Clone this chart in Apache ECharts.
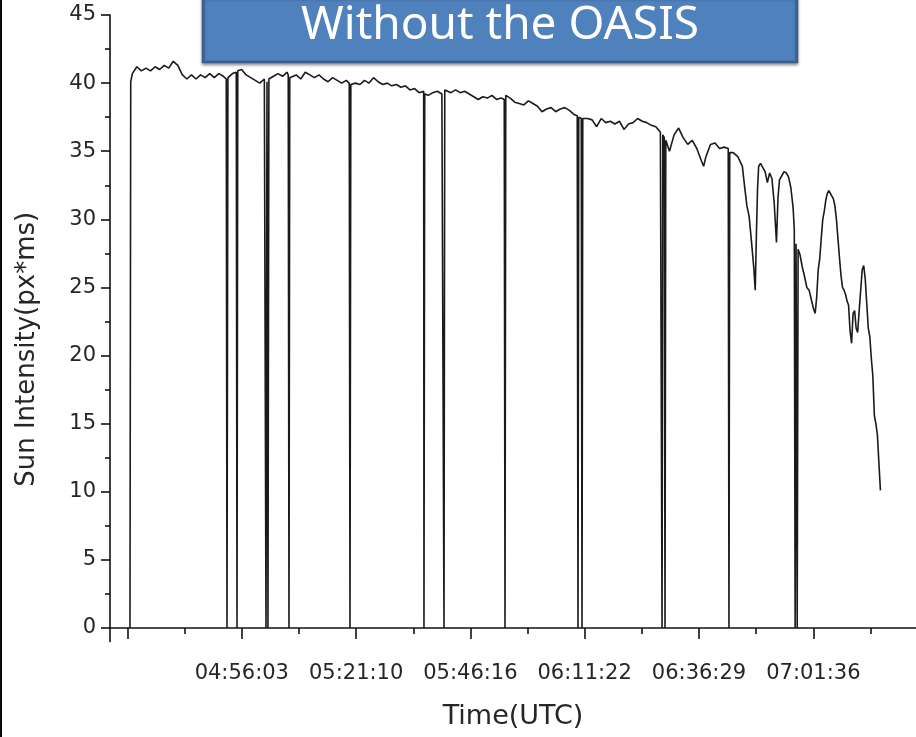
<!DOCTYPE html>
<html>
<head>
<meta charset="utf-8">
<title>Without the OASIS</title>
<script src="https://cdn.jsdelivr.net/npm/echarts@6/dist/echarts.min.js"></script>
<style>
  html, body { margin: 0; padding: 0; background: #ffffff; }
  #chart { width: 916px; height: 737px; }
</style>
</head>
<body>
<div id="chart"></div>
<script>
// Sun intensity samples (UTC time, px*ms); zero values are dropped frames.
const times = [
  '04:31:29','04:31:39','04:32:00','04:33:00','04:34:00','04:35:00','04:36:00','04:37:00','04:38:00','04:39:00',
  '04:40:00','04:41:00','04:42:00','04:43:00','04:44:00','04:45:00','04:46:00','04:47:00','04:48:00','04:49:00',
  '04:50:00','04:51:00','04:52:00','04:52:38','04:52:48','04:53:00','04:54:00','04:54:50','04:55:00','04:55:10',
  '04:56:00','04:57:00','04:58:00','04:59:00','05:00:00','05:01:00','05:01:22','05:01:35','05:01:48','05:02:00',
  '05:03:00','05:04:00','05:05:00','05:06:00','05:06:15','05:06:25','05:06:35','05:07:00','05:08:00','05:09:00',
  '05:10:00','05:11:00','05:12:00','05:13:00','05:14:00','05:15:00','05:16:00','05:17:00','05:18:00','05:19:00',
  '05:19:39','05:19:49','05:20:00','05:21:00','05:22:00','05:23:00','05:24:00','05:25:00','05:26:00','05:27:00',
  '05:28:00','05:29:00','05:30:00','05:31:00','05:32:00','05:33:00','05:34:00','05:35:00','05:36:00','05:36:04',
  '05:36:14','05:37:00','05:38:00','05:39:00','05:40:00','05:40:18','05:40:28','05:40:38','05:41:00','05:42:00',
  '05:43:00','05:44:00','05:45:00','05:46:00','05:47:00','05:48:00','05:49:00','05:50:00','05:51:00','05:52:00',
  '05:53:00','05:53:42','05:53:52','05:54:02','05:55:00','05:56:00','05:57:00','05:58:00','05:59:00','06:00:00',
  '06:01:00','06:02:00','06:03:00','06:04:00','06:05:00','06:06:00','06:07:00','06:08:00','06:09:00','06:09:44',
  '06:09:54','06:10:04','06:10:37','06:10:47','06:10:57','06:12:00','06:13:00','06:14:00','06:15:00','06:16:00',
  '06:17:00','06:18:00','06:19:00','06:20:00','06:21:00','06:22:00','06:23:00','06:24:00','06:25:00','06:26:00',
  '06:27:00','06:28:00','06:28:12','06:28:22','06:28:32','06:28:51','06:29:01','06:29:11','06:30:00','06:31:00',
  '06:32:00','06:33:00','06:34:00','06:35:00','06:36:00','06:37:00','06:37:30','06:38:00','06:39:00','06:40:00',
  '06:41:00','06:42:00','06:42:54','06:43:04','06:43:14','06:44:00','06:45:00','06:46:00','06:46:30','06:47:00',
  '06:47:30','06:48:00','06:48:30','06:48:50','06:49:05','06:49:20','06:49:35','06:50:00','06:50:30','06:51:00',
  '06:51:30','06:52:00','06:52:30','06:53:00','06:53:30','06:53:50','06:54:10','06:54:40','06:55:10','06:55:40',
  '06:56:10','06:56:40','06:57:10','06:57:25','06:57:36','06:57:48','06:58:03','06:58:15','06:58:40','06:59:10',
  '06:59:40','07:00:10','07:00:40','07:01:10','07:01:40','07:02:00','07:02:20','07:02:40','07:03:00','07:03:20',
  '07:03:40','07:04:00','07:04:20','07:04:40','07:05:00','07:05:20','07:05:40','07:06:00','07:06:20','07:06:40',
  '07:07:00','07:07:20','07:07:40','07:08:00','07:08:20','07:08:40','07:09:00','07:09:20','07:09:40','07:10:00',
  '07:10:20','07:10:40','07:11:00','07:11:20','07:11:40','07:12:00','07:12:20','07:12:40','07:13:00','07:13:20',
  '07:13:40','07:14:00','07:14:20','07:14:40','07:15:00','07:15:20','07:15:40','07:16:00','07:16:20'
];
const intensity = [
  0, 40.1, 40.7, 41.2, 40.9, 41.1, 40.9, 41.2, 41.0, 41.3,
  41.1, 41.6, 41.3, 40.6, 40.3, 40.6, 40.3, 40.6, 40.4, 40.7,
  40.4, 40.7, 40.5, 40.3, 0, 40.4, 40.7, 40.8, 0, 40.9,
  41.0, 40.6, 40.4, 40.2, 40.0, 40.3, 0, 40.1, 0, 40.3,
  40.5, 40.7, 40.5, 40.8, 40.6, 0, 40.4, 40.5, 40.6, 40.3,
  40.8, 40.6, 40.4, 40.6, 40.3, 40.1, 40.4, 40.2, 40.0, 40.2,
  40.0, 0, 39.9, 40.0, 39.9, 40.2, 40.0, 40.4, 40.1, 39.9,
  40.0, 39.8, 39.9, 39.7, 39.8, 39.5, 39.6, 39.3, 39.4, 0,
  39.2, 39.1, 39.3, 39.4, 39.2, 39.3, 0, 39.5, 39.5, 39.3,
  39.5, 39.3, 39.4, 39.2, 39.0, 38.8, 39.0, 38.9, 39.1, 38.8,
  38.9, 38.8, 0, 39.1, 38.9, 38.6, 38.5, 38.4, 38.7, 38.5,
  38.3, 37.9, 38.1, 38.2, 37.9, 38.1, 38.2, 38.0, 37.7, 37.6,
  0, 37.5, 37.4, 0, 37.4, 37.4, 37.3, 36.8, 37.4, 37.1,
  37.2, 37.0, 37.2, 36.6, 37.0, 37.1, 37.4, 37.2, 37.1, 36.9,
  36.8, 36.4, 36.3, 0, 36.2, 36.0, 0, 35.8, 35.0, 36.2,
  36.7, 36.0, 35.5, 35.8, 35.2, 34.3, 33.9, 34.6, 35.5, 35.6,
  35.2, 35.3, 35.2, 0, 34.9, 34.9, 34.6, 33.9, 32.4, 31.0,
  30.2, 28.4, 26.5, 24.8, 28.8, 32.2, 33.9, 34.1, 33.8, 33.5,
  32.7, 33.4, 33.0, 31.2, 28.3, 31.6, 32.9, 33.2, 33.5, 33.4,
  33.1, 32.3, 30.8, 29.2, 0, 28.2, 0, 27.8, 27.4, 26.5,
  25.8, 25.0, 24.8, 24.1, 23.4, 23.1, 24.3, 26.3, 27.1, 28.6,
  30.0, 30.6, 31.4, 31.9, 32.1, 31.9, 31.7, 31.5, 31.0, 30.0,
  28.6, 27.2, 25.9, 25.0, 24.8, 24.5, 24.0, 23.7, 21.8, 20.9,
  23.1, 23.3, 22.0, 21.7, 23.3, 24.8, 26.3, 26.6, 25.6, 23.8,
  22.0, 21.4, 19.8, 18.5, 15.6, 15.0, 14.2, 12.1, 10.1
];

// Axis ticks
const yMajorTicks = [0, 5, 10, 15, 20, 25, 30, 35, 40, 45];
const yMinorTicks = [2.5, 7.5, 12.5, 17.5, 22.5, 27.5, 32.5, 37.5, 42.5];
const xFirstTick = '04:30:56.5';
const xTickLabels = ['04:56:03', '05:21:10', '05:46:16', '06:11:22', '06:36:29', '07:01:36'];
const xMinorTicks = ['04:43:30', '05:08:36', '05:33:43', '05:58:49', '06:23:56', '06:49:02', '07:14:09'];

function toSec(s) {
  const p = s.split(':');
  return Number(p[0]) * 3600 + Number(p[1]) * 60 + Number(p[2]);
}
function toClock(v) {
  const t = Math.round(v);
  const h = Math.floor(t / 3600), m = Math.floor((t % 3600) / 60), s = t % 60;
  const pad = n => String(n).padStart(2, '0');
  return pad(h) + ':' + pad(m) + ':' + pad(s);
}

const seriesData = times.map((t, i) => [toSec(t), intensity[i]]);
const xMajor = [toSec(xFirstTick)].concat(xTickLabels.map(toSec));
const xLabelValues = xTickLabels.map(toSec);
const xMinor = xMinorTicks.map(toSec);

const textColor = '#262626';
const fontFamily = '"DejaVu Sans", Arial, sans-serif';
const X_MIN = 16025.85, X_MAX = 26648.9;
const Y_MIN = -1, Y_MAX = 45;

const chart = echarts.init(document.getElementById('chart'), null, { renderer: 'canvas' });
chart.setOption({
  backgroundColor: '#ffffff',
  animation: false,
  grid: { left: 110, right: 0, top: 15, bottom: 95.4, containLabel: false },
  xAxis: [
    {
      type: 'value', min: X_MIN, max: X_MAX, position: 'bottom',
      name: 'Time(UTC)', nameLocation: 'middle', nameGap: 62,
      nameTextStyle: { color: textColor, fontSize: 27, fontFamily: fontFamily },
      axisLine: { show: true, lineStyle: { color: '#111', width: 1.6 } },
      axisTick: { show: true, customValues: xMajor, length: 11, lineStyle: { color: '#111', width: 1.6 } },
      axisLabel: {
        show: true, customValues: xLabelValues, margin: 21,
        color: textColor, fontSize: 21, fontFamily: fontFamily,
        formatter: v => toClock(v)
      },
      splitLine: { show: false }
    },
    {
      type: 'value', min: X_MIN, max: X_MAX, position: 'bottom',
      axisLine: { show: false },
      axisTick: { show: true, customValues: xMinor, length: 6, lineStyle: { color: '#111', width: 1.6 } },
      axisLabel: { show: false },
      splitLine: { show: false }
    }
  ],
  yAxis: [
    {
      type: 'value', min: Y_MIN, max: Y_MAX, position: 'left',
      name: 'Sun Intensity(px*ms)', nameLocation: 'middle', nameGap: 70,
      nameTextStyle: { color: textColor, fontSize: 26, fontFamily: fontFamily, padding: [0, 42, 0, 0] },
      axisLine: { show: true, lineStyle: { color: '#111', width: 1.6 } },
      axisTick: { show: true, customValues: yMajorTicks, length: 9, lineStyle: { color: '#111', width: 1.6 } },
      axisLabel: {
        show: true, customValues: yMajorTicks, margin: 14,
        color: textColor, fontSize: 21, fontFamily: fontFamily
      },
      splitLine: { show: false }
    },
    {
      type: 'value', min: Y_MIN, max: Y_MAX, position: 'left',
      axisLine: { show: false },
      axisTick: { show: true, customValues: yMinorTicks, length: 5, lineStyle: { color: '#111', width: 1.6 } },
      axisLabel: { show: false },
      splitLine: { show: false }
    }
  ],
  series: [
    {
      type: 'line', xAxisIndex: 0, yAxisIndex: 0,
      data: seriesData,
      showSymbol: false, symbol: 'none',
      lineStyle: { color: '#1a1a1a', width: 1.6 },
      clip: true
    }
  ],
  graphic: [
    { type: 'rect', left: 0, top: 0, shape: { width: 2, height: 737 }, style: { fill: '#0a0a0a' }, z: 100 },
    {
      type: 'group', z: 100,
      children: [
        {
          type: 'rect', shape: { x: 203, y: -4, width: 594, height: 66 },
          style: { fill: '#4F81BD', stroke: '#3A5F8B', lineWidth: 2.5,
                   shadowBlur: 3, shadowOffsetY: 2, shadowColor: 'rgba(0,0,0,0.35)' }
        },
        {
          type: 'text', x: 500, y: 26,
          style: { text: 'Without the OASIS', fill: '#ffffff', fontSize: 46,
                   fontFamily: '"Noto Sans", "Open Sans", sans-serif',
                   textAlign: 'center', textVerticalAlign: 'middle' }
        }
      ]
    }
  ]
});
</script>
</body>
</html>
